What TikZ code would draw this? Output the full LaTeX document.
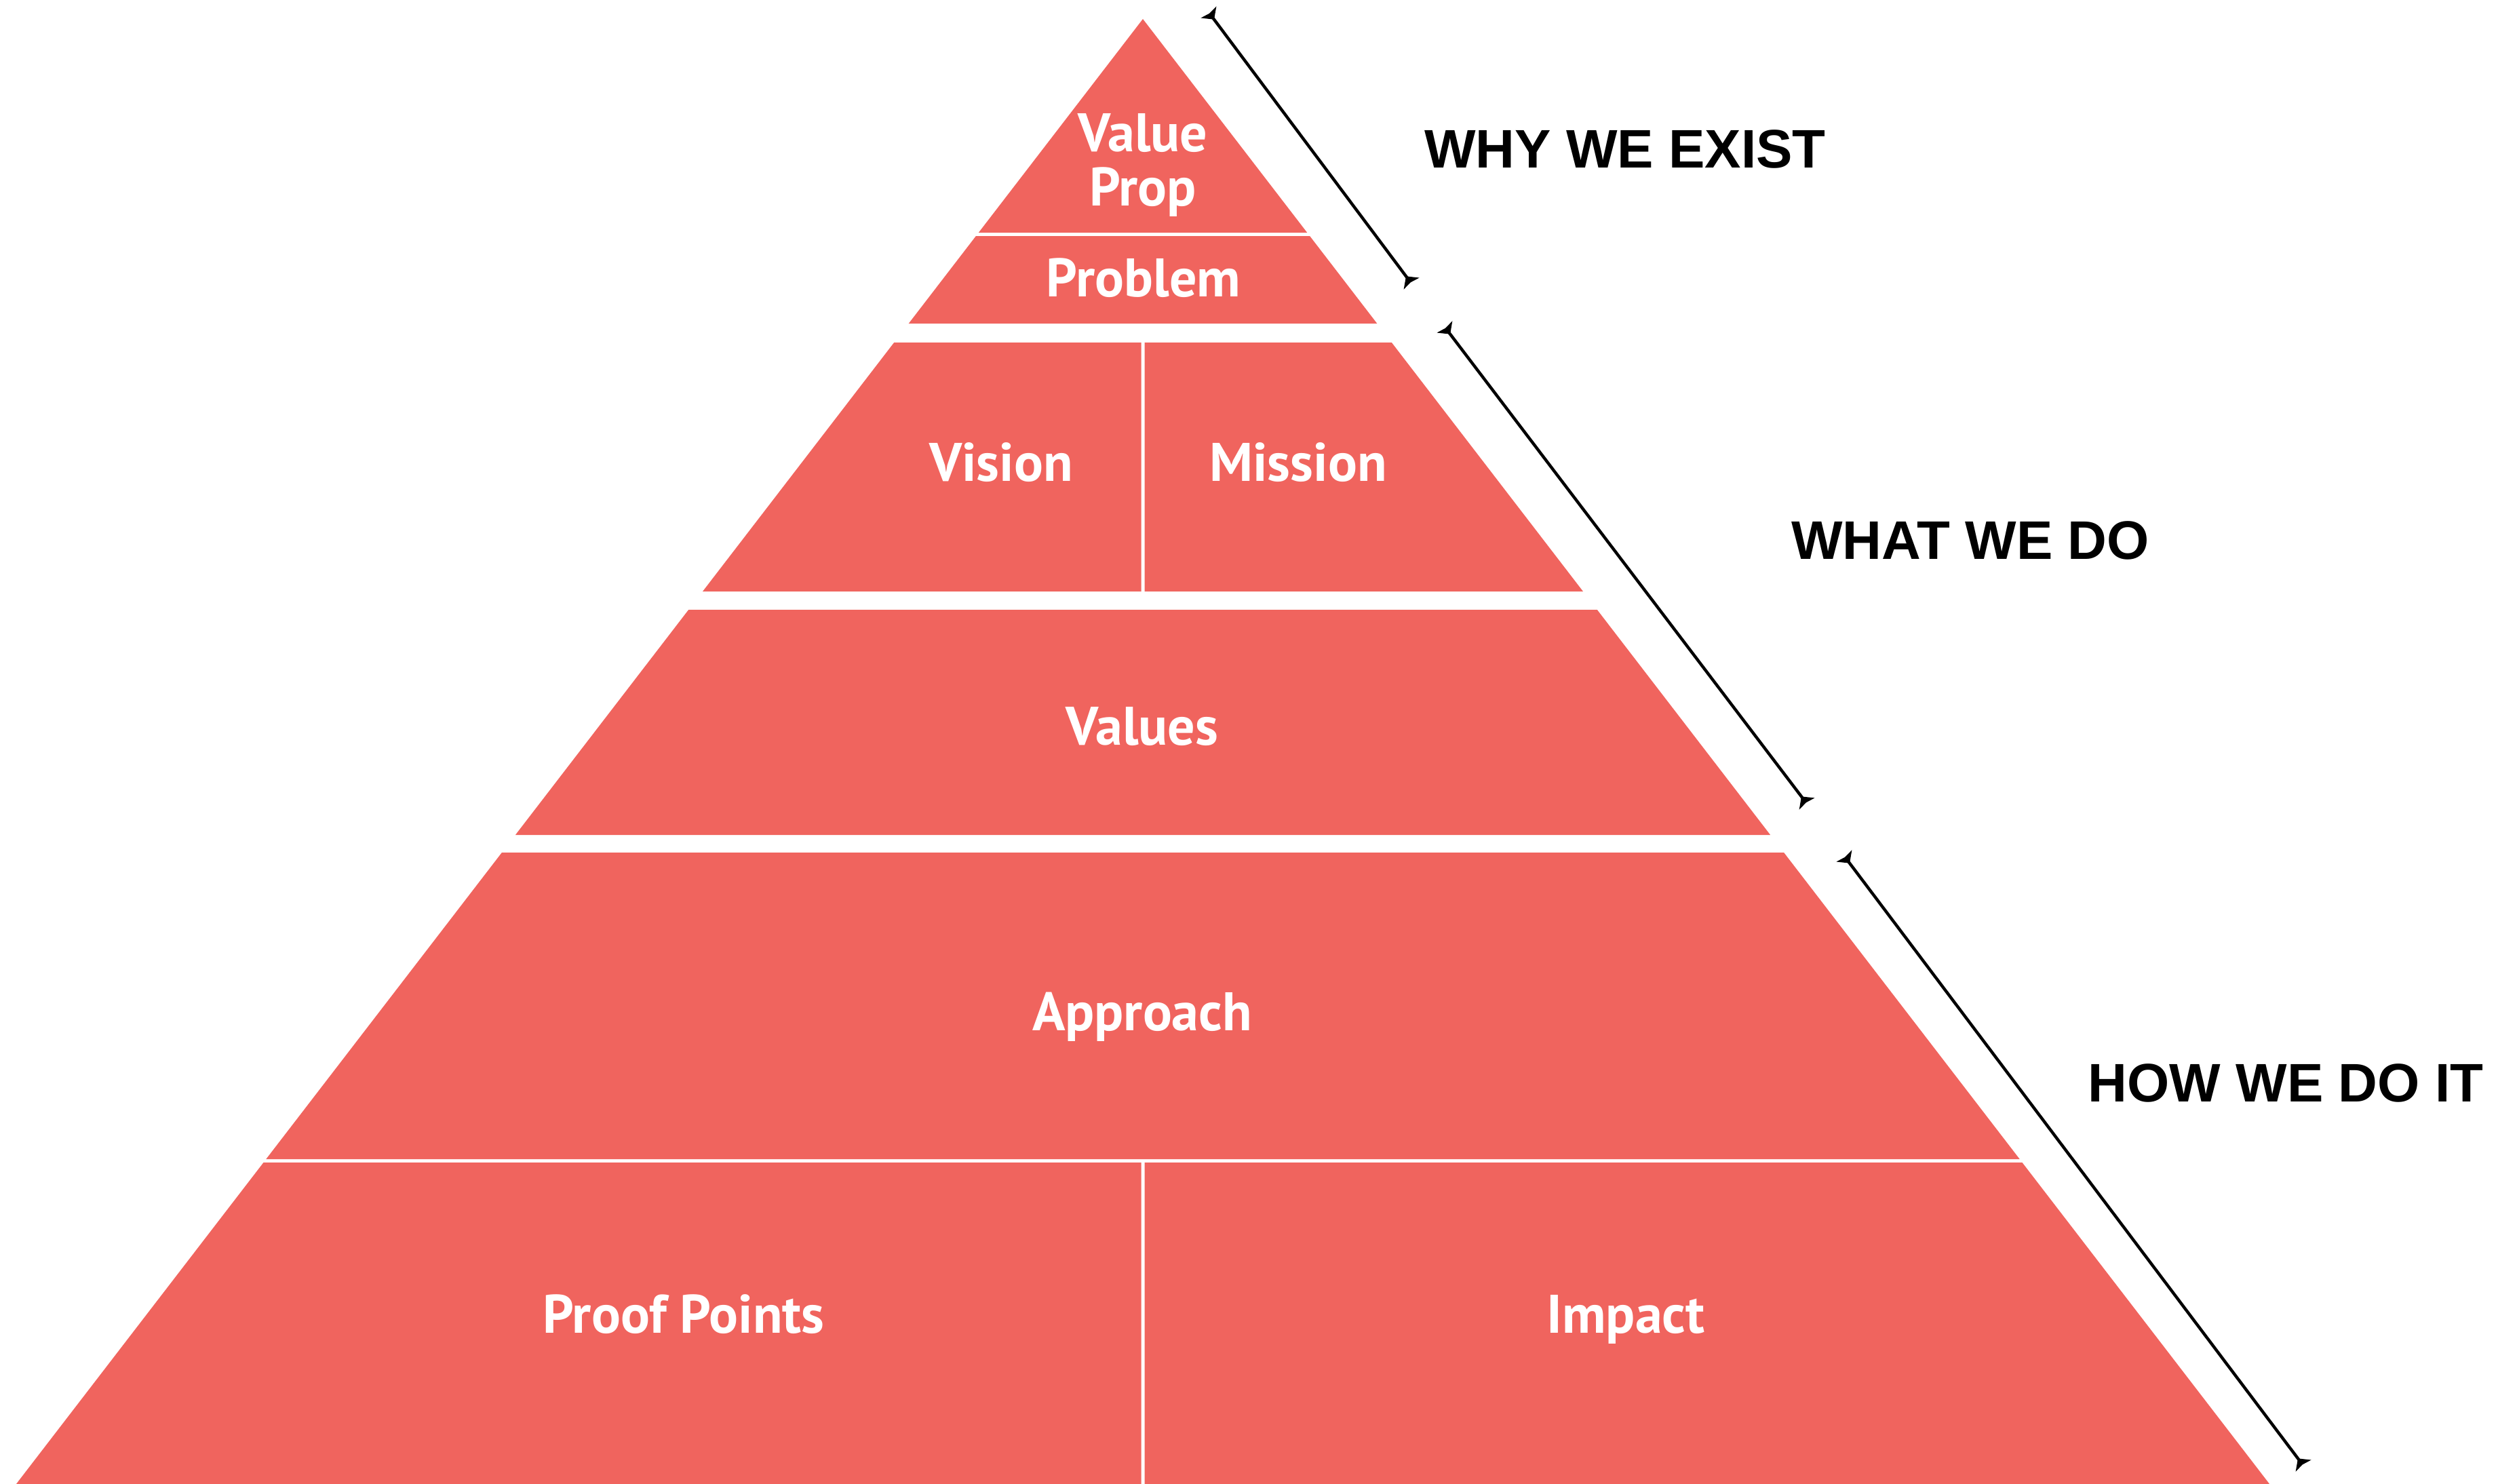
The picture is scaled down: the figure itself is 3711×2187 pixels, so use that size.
\documentclass[tikz,border=0pt]{standalone}
\usepackage{fontspec}
\setmainfont{Liberation Sans}
\newfontfamily\labelfont{PT Sans}
\newfontfamily\headfont{Liberation Sans}
\usetikzlibrary{arrows.meta}
\definecolor{salmon}{HTML}{F0645E}
\tikzset{
  pyr/.style={fill=salmon},
  inlabel/.style={text=white, inner sep=0pt, anchor=base, align=center,
    font=\labelfont\bfseries\fontsize{22.76pt}{22.5pt}\selectfont},
  headlabel/.style={text=black, inner sep=0pt, anchor=base,
    font=\headfont\bfseries\fontsize{22.76pt}{27pt}\selectfont},
  spanarrow/.style={draw=black, line width=1.25pt,
    {Stealth[reversed, length=3.8pt, width=8pt, inset=0.6pt]}-{Stealth[reversed, length=3.8pt, width=8pt, inset=0.6pt]}}
}
\begin{document}
\begin{tikzpicture}[x=0.01cm, y=-0.01cm]
\useasboundingbox (0,0) rectangle (3711,2187);
\begin{scope}
\clip (0,0) rectangle (3711,2187);
% pyramid pieces
\fill[pyr] (1685,28) -- (1927.2,343) -- (1442.8,343) -- cycle;
\fill[pyr] (1438.9,348) -- (1931.1,348) -- (2030.3,477) -- (1339.7,477) -- cycle;
\fill[pyr] (1318.2,505) -- (1682.5,505) -- (1682.5,872) -- (1036,872) -- cycle;
\fill[pyr] (1687.5,505) -- (2051.8,505) -- (2334,872) -- (1687.5,872) -- cycle;
\fill[pyr] (1015.2,899) -- (2354.8,899) -- (2610.1,1231) -- (759.9,1231) -- cycle;
\fill[pyr] (739.9,1257) -- (2630.1,1257) -- (2977.7,1709) -- (392.3,1709) -- cycle;
\fill[pyr] (388.5,1714) -- (1682.5,1714) -- (1682.5,2190) -- (22.4,2190) -- cycle;
\fill[pyr] (1687.5,1714) -- (2981.5,1714) -- (3347.6,2190) -- (1687.5,2190) -- cycle;
\end{scope}
% labels inside
\node[inlabel] (valueprop) at (1685,303) {Value\\Prop};
\node[inlabel] (problem) at (1686,437) {Problem};
\node[inlabel] (vision) at (1476,709) {Vision};
\node[inlabel] (mission) at (1914,709) {Mission};
\node[inlabel] (values) at (1684,1098) {Values};
\node[inlabel] (approach) at (1684,1519) {Approach};
\node[inlabel] (proof) at (1008,1965) {Proof Points};
\node[inlabel] (impact) at (2397,1965) {Impact};
% headings
\node[headlabel] (why) at (2396,247) {WHY WE EXIST};
\node[headlabel] (what) at (2905,824) {WHAT WE DO};
\node[headlabel] (how) at (3370,1624) {HOW WE DO IT};
% span arrows
\coordinate (a1s) at (1782,18);
\coordinate (a1e) at (2081,418);
\coordinate (a2s) at (2130,482);
\coordinate (a2e) at (2664,1185);
\coordinate (a3s) at (2719,1262);
\coordinate (a3e) at (3396,2161);
\draw[spanarrow] (a1s) -- (a1e);
\draw[spanarrow] (a2s) -- (a2e);
\draw[spanarrow] (a3s) -- (a3e);
\end{tikzpicture}
\end{document}
